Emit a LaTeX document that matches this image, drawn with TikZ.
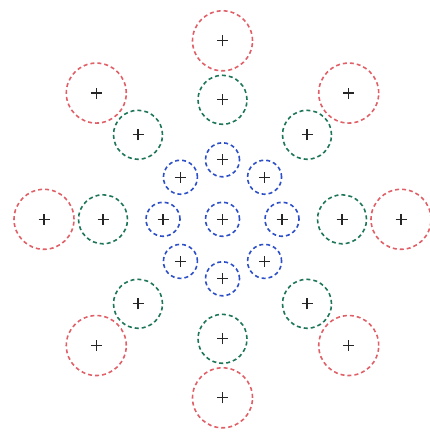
\documentclass[tikz,border=0pt]{standalone}
\usetikzlibrary{calc}
\definecolor{ringred}{RGB}{224,96,104}
\definecolor{ringgreen}{RGB}{30,118,88}
\definecolor{ringblue}{RGB}{45,80,200}
\tikzset{
  ringcircle/.style={circle, draw, line width=1.6pt, dash pattern=on 4pt off 3pt, inner sep=0pt, fill=none},
  bluec/.style={ringcircle, draw=ringblue, minimum size=34pt},
  greenc/.style={ringcircle, draw=ringgreen, minimum size=49pt},
  redc/.style={ringcircle, draw=ringred, minimum size=60pt},
  crossmark/.style={line width=1.3pt, black!85}
}
\begin{document}
\begin{tikzpicture}[x=1pt,y=-1pt]
\useasboundingbox (0,0) rectangle (430,434);
\coordinate (c) at (222.5,219.3);
% centre
\node[bluec] (b0) at (c) {};
\draw[crossmark] ([xshift=-5.5pt]b0.center) -- ([xshift=5.5pt]b0.center)
                 ([yshift=-5.5pt]b0.center) -- ([yshift=5.5pt]b0.center);
\foreach \i in {0,...,7}{
  \pgfmathsetmacro{\ang}{90-45*\i}
  \node[bluec] (b\i x) at ($(c)+(\ang:59.5 and -59.5)$) {};
  \node[greenc] (g\i) at ($(c)+(\ang:119.5 and -119.5)$) {};
  \node[redc] (r\i) at ($(c)+(\ang:178.5 and -178.5)$) {};
  \foreach \n in {b\i x,g\i,r\i}{
    \draw[crossmark] ([xshift=-5.5pt]\n.center) -- ([xshift=5.5pt]\n.center)
                     ([yshift=-5.5pt]\n.center) -- ([yshift=5.5pt]\n.center);
  }
}
\end{tikzpicture}
\end{document}
